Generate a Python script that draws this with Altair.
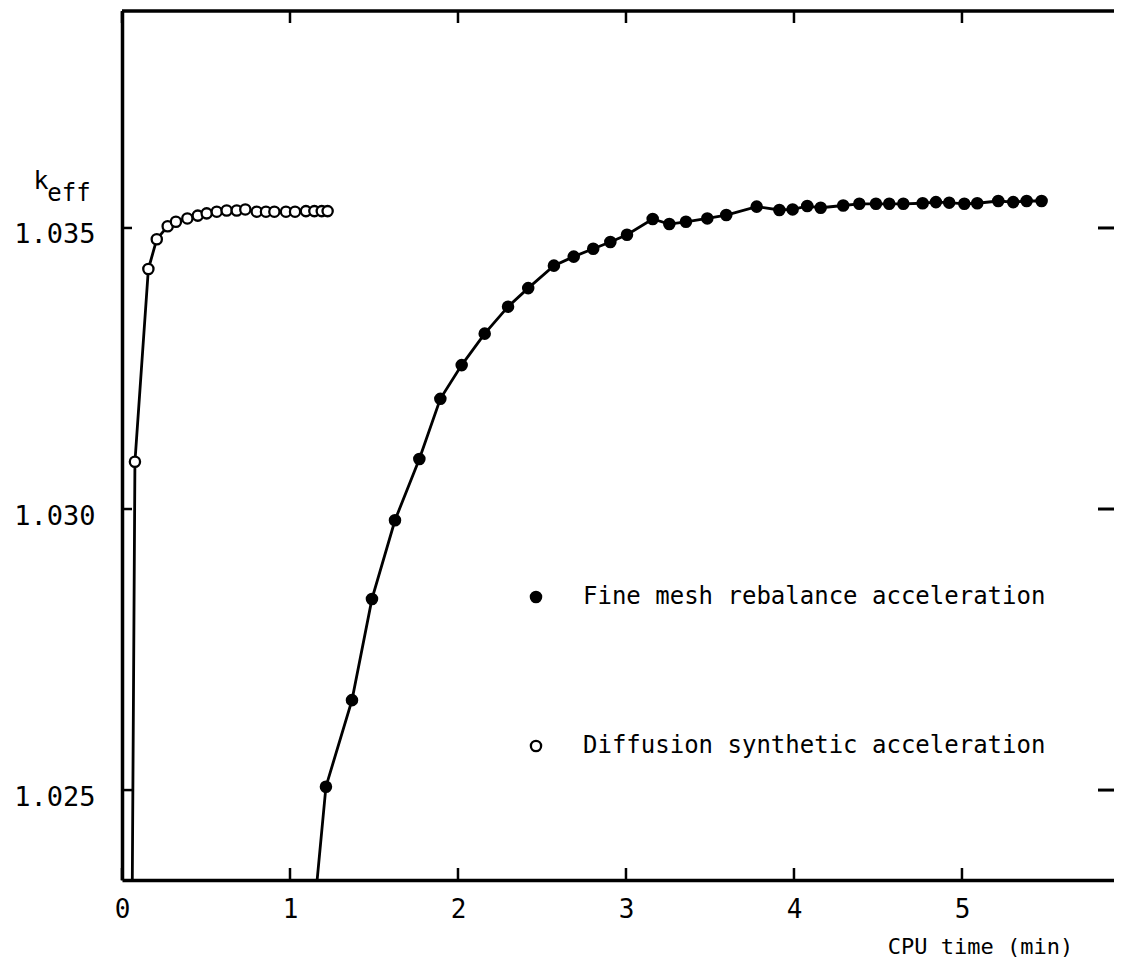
import altair as alt
import pandas as pd

# ---- data ----
series_names = ["Fine mesh rebalance acceleration", "Diffusion synthetic acceleration"]

fmr_time = [1.07, 1.214, 1.369, 1.488, 1.625, 1.770, 1.895, 2.022, 2.159, 2.298,
            2.418, 2.571, 2.689, 2.805, 2.907, 3.006, 3.159, 3.258, 3.357, 3.484,
            3.597, 3.778, 3.913, 3.992, 4.079, 4.159, 4.293, 4.389, 4.488, 4.567,
            4.651, 4.766, 4.845, 4.924, 5.014, 5.091, 5.216, 5.305, 5.385, 5.474]
fmr_keff = [1.0205, 1.02506, 1.02660, 1.02840, 1.02980, 1.03089, 1.03196, 1.03256, 1.03312, 1.03360,
            1.03393, 1.03433, 1.03449, 1.03463, 1.03475, 1.03488, 1.03516, 1.03507, 1.03511, 1.03517,
            1.03523, 1.03538, 1.03532, 1.03533, 1.03539, 1.03536, 1.03540, 1.03543, 1.03543, 1.03543,
            1.03543, 1.03544, 1.03546, 1.03545, 1.03543, 1.03544, 1.03548, 1.03546, 1.03548, 1.03548]

dsa_time = [0.05, 0.077, 0.157, 0.207, 0.272, 0.321, 0.389, 0.451, 0.504, 0.564,
            0.623, 0.683, 0.734, 0.802, 0.857, 0.907, 0.976, 1.030, 1.095, 1.145,
            1.189, 1.224]
dsa_keff = [1.0180, 1.03084, 1.03427, 1.03480, 1.03503, 1.03511, 1.03517, 1.03522, 1.03526, 1.03529,
            1.03531, 1.03531, 1.03533, 1.03529, 1.03529, 1.03529, 1.03529, 1.03529, 1.03530, 1.03530,
            1.03530, 1.03530]

x_tick_values = [0, 1, 2, 3, 4, 5]
y_tick_values = [1.025, 1.030, 1.035]
x_domain = [0, 5.905]
y_domain = [1.0234, 1.03886]

ylabel_main = ["k"]
ylabel_sub = ["eff"]
x_title = "CPU time (min)"

# ---- layout ----
PLOT_W = 992
PLOT_H = 869
MONO = "DejaVu Sans Mono"

rows = []
for i, (t, k) in enumerate(zip(fmr_time, fmr_keff)):
    rows.append({"series": series_names[0], "t": t, "k": k, "idx": i})
for i, (t, k) in enumerate(zip(dsa_time, dsa_keff)):
    rows.append({"series": series_names[1], "t": t, "k": k, "idx": i})
df = pd.DataFrame(rows)

x_scale = alt.Scale(domain=x_domain, nice=False, zero=False)
y_scale = alt.Scale(domain=y_domain, nice=False, zero=False)

x_axis = alt.Axis(values=x_tick_values, format="d", grid=False, ticks=False, tickSize=0,
                  domainColor="black", domainWidth=3.5, labelColor="black",
                  labelFont=MONO, labelFontSize=26, labelPadding=16, labelFlush=False,
                  title=x_title, titleFont=MONO, titleFontSize=22, titleFontWeight="normal",
                  titleColor="black", titleX=858, titleY=66, titleAlign="center",
                  titleBaseline="middle", titleAnchor="start")
y_axis = alt.Axis(values=y_tick_values, format=".3f", grid=False, ticks=False, tickSize=0,
                  domainColor="black", domainWidth=3.5, labelColor="black",
                  labelFont=MONO, labelFontSize=27, labelPadding=27, labelBaseline="middle",
                  labelOffset=7, title=None)

base = alt.Chart(df)
lines = base.mark_line(color="black", strokeWidth=2.8, clip=True).encode(
    x=alt.X("t:Q", scale=x_scale, axis=x_axis),
    y=alt.Y("k:Q", scale=y_scale, axis=y_axis),
    detail="series:N",
    order="idx:Q",
)
points = base.mark_point(shape="circle", filled=True, size=105, stroke="black",
                         strokeWidth=2.3, opacity=1, fillOpacity=1, clip=True).encode(
    x=alt.X("t:Q", scale=x_scale),
    y=alt.Y("k:Q", scale=y_scale),
    fill=alt.Fill("series:N", scale=alt.Scale(domain=series_names, range=["black", "white"]),
                  legend=alt.Legend(title=None, orient="none", legendX=402, legendY=574,
                                    padding=0, symbolSize=105, symbolStrokeColor="black",
                                    symbolStrokeWidth=2.3, symbolType="circle",
                                    labelFont=MONO, labelFontSize=24, labelColor="black",
                                    labelLimit=1000, labelOffset=35, rowPadding=125,
                                    labelBaseline="middle")),
)

xt = pd.DataFrame({"t": x_tick_values})
yt = pd.DataFrame({"k": y_tick_values})
bottom_ticks = alt.Chart(xt).mark_rule(color="black", strokeWidth=2.5).encode(
    x=alt.X("t:Q", scale=x_scale), y=alt.value(PLOT_H), y2=alt.value(PLOT_H - 12))
top_ticks = alt.Chart(xt).mark_rule(color="black", strokeWidth=2.5).encode(
    x=alt.X("t:Q", scale=x_scale), y=alt.value(0), y2=alt.value(12))
left_ticks = alt.Chart(yt).mark_rule(color="black", strokeWidth=2.5).encode(
    y=alt.Y("k:Q", scale=y_scale), x=alt.value(0), x2=alt.value(10))
right_ticks = alt.Chart(yt).mark_rule(color="black", strokeWidth=3).encode(
    y=alt.Y("k:Q", scale=y_scale), x=alt.value(PLOT_W - 16), x2=alt.value(PLOT_W))
top_border = alt.Chart(pd.DataFrame({"b": [0]})).mark_rule(color="black", strokeWidth=3.5).encode(
    x=alt.value(0), x2=alt.value(PLOT_W), y=alt.value(0))

k_main = alt.Chart(pd.DataFrame({"txt": ylabel_main})).mark_text(
    font=MONO, fontSize=25, color="black", align="center", baseline="alphabetic").encode(
    text="txt:N", x=alt.value(-81), y=alt.value(178))
k_sub = alt.Chart(pd.DataFrame({"txt": ylabel_sub})).mark_text(
    font=MONO, fontSize=24, color="black", align="center", baseline="alphabetic").encode(
    text="txt:N", x=alt.value(-53), y=alt.value(190))

chart = alt.layer(
    lines, points, bottom_ticks, top_ticks, left_ticks, right_ticks, top_border, k_main, k_sub
).properties(
    width=PLOT_W, height=PLOT_H,
    autosize=alt.AutoSizeParams(type="none"),
    padding={"left": 114, "top": 3, "right": 0, "bottom": 80},
).configure_view(stroke=None).configure(background="white")

chart.save("out.html", embed_options={"renderer": "svg", "actions": False})
